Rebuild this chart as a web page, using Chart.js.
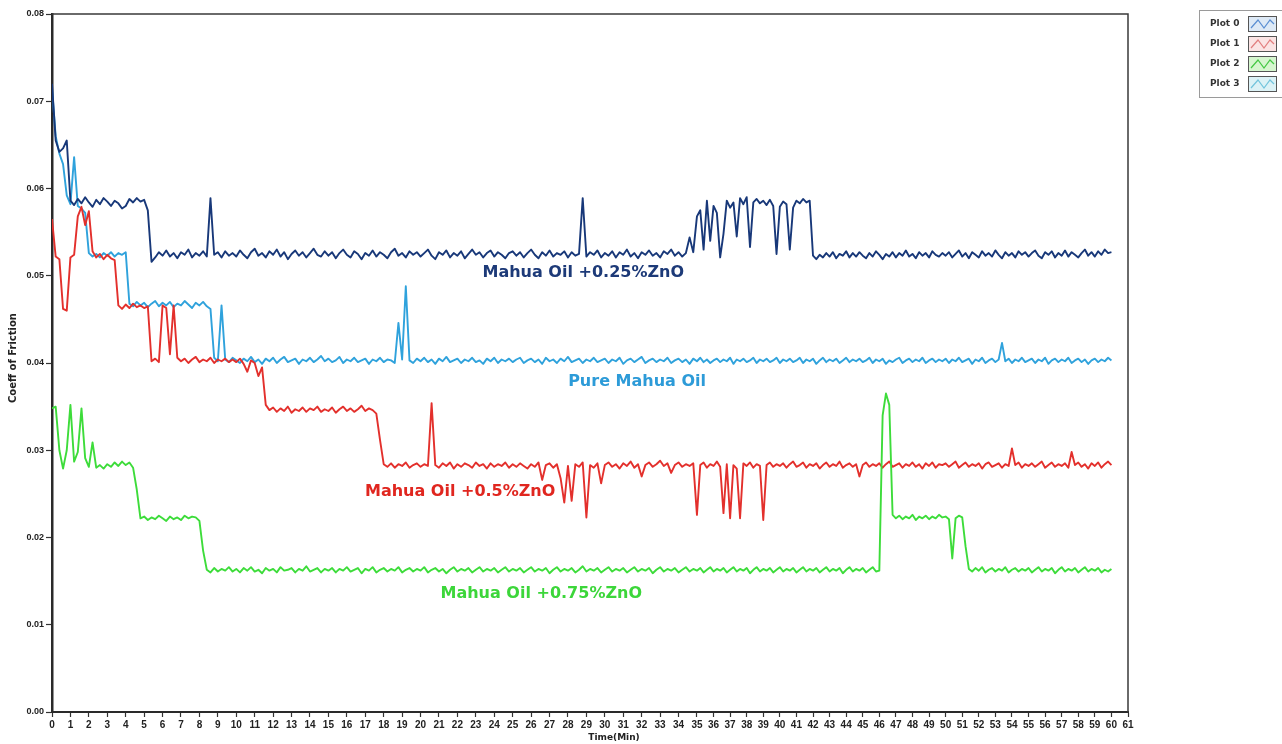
<!DOCTYPE html>
<html><head><meta charset="utf-8">
<script src="https://cdn.jsdelivr.net/npm/chart.js@4.4.1/dist/chart.umd.min.js"></script>
<style>html,body{margin:0;padding:0;background:#fff;overflow:hidden}#wrap{position:relative;width:1282px;height:744px}</style>
</head><body><div id="wrap"><canvas id="c" width="1282" height="744"></canvas></div>
<script>
// ---- data (time in minutes, sampled every 0.2 min; coefficient of friction) ----
const TIME_MIN = Array.from({length: 301}, (_, i) => Math.round(i * 2) / 10);

const MAHUA_025_ZNO = [
.0720,.0655,.0642,.0646,.0655,.0586,.0581,.0588,.0583,.0590,.0584,.0579,.0587,.0582,.0589,.0585,.0580,.0586,.0583,.0577,.0580,.0588,.0584,.0589,.0585,
.0587,.0575,.0516,.0521,.0527,.0523,.0529,.0522,.0526,.0520,.0527,.0524,.0530,.0521,.0526,.0523,.0528,.0522,.0589,.0524,.0527,.0521,.0528,.0523,.0526,
.0522,.0529,.0524,.0520,.0527,.0531,.0523,.0526,.0521,.0528,.0524,.0530,.0522,.0527,.0519,.0525,.0529,.0523,.0527,.0521,.0526,.0531,.0524,.0522,.0528,
.0523,.0527,.0520,.0526,.0530,.0524,.0521,.0528,.0525,.0519,.0526,.0523,.0529,.0522,.0527,.0524,.0520,.0527,.0531,.0523,.0526,.0521,.0528,.0524,.0527,
.0522,.0526,.0530,.0523,.0519,.0527,.0524,.0529,.0521,.0526,.0523,.0528,.0520,.0525,.0530,.0524,.0527,.0521,.0526,.0529,.0522,.0527,.0524,.0520,.0526,
.0528,.0523,.0527,.0521,.0526,.0530,.0524,.0520,.0527,.0523,.0529,.0522,.0526,.0524,.0528,.0521,.0527,.0523,.0525,.0589,.0522,.0527,.0524,.0529,.0521,
.0526,.0523,.0528,.0521,.0527,.0524,.0530,.0522,.0526,.0520,.0527,.0524,.0529,.0523,.0526,.0521,.0528,.0525,.0530,.0523,.0527,.0522,.0526,.0544,.0527,
.0568,.0575,.0530,.0586,.0540,.0580,.0572,.0521,.0548,.0586,.0578,.0584,.0545,.0589,.0582,.0590,.0533,.0584,.0588,.0583,.0586,.0581,.0587,.0580,.0525,
.0579,.0585,.0582,.0530,.0578,.0586,.0583,.0588,.0584,.0586,.0523,.0519,.0524,.0521,.0526,.0522,.0527,.0520,.0525,.0523,.0528,.0521,.0526,.0522,.0527,
.0523,.0520,.0526,.0522,.0528,.0524,.0519,.0525,.0522,.0527,.0521,.0526,.0523,.0529,.0522,.0525,.0520,.0527,.0523,.0526,.0521,.0528,.0524,.0522,.0526,
.0523,.0527,.0521,.0525,.0529,.0522,.0526,.0520,.0527,.0524,.0521,.0528,.0523,.0526,.0522,.0529,.0524,.0520,.0527,.0523,.0526,.0521,.0528,.0524,.0527,
.0522,.0526,.0529,.0523,.0520,.0527,.0524,.0528,.0521,.0526,.0523,.0529,.0522,.0527,.0524,.0521,.0526,.0530,.0523,.0527,.0522,.0528,.0524,.0530,.0526,
.0527];

const PURE_MAHUA = [
.0715,.0660,.0640,.0628,.0592,.0582,.0636,.0580,.0577,.0572,.0526,.0522,.0525,.0521,.0526,.0523,.0527,.0522,.0526,.0524,.0527,.0468,.0465,.0470,.0466,
.0469,.0464,.0468,.0471,.0465,.0469,.0466,.0470,.0464,.0468,.0466,.0471,.0467,.0463,.0469,.0466,.0470,.0465,.0462,.0406,.0402,.0466,.0404,.0401,.0406,
.0403,.0400,.0405,.0402,.0407,.0401,.0404,.0399,.0405,.0402,.0406,.0400,.0404,.0407,.0401,.0403,.0405,.0399,.0404,.0402,.0406,.0401,.0404,.0408,.0402,
.0405,.0401,.0403,.0407,.0400,.0404,.0402,.0406,.0401,.0403,.0405,.0399,.0404,.0402,.0406,.0401,.0404,.0403,.0400,.0446,.0404,.0488,.0403,.0400,.0405,
.0402,.0406,.0401,.0404,.0399,.0405,.0402,.0407,.0401,.0403,.0405,.0400,.0404,.0402,.0406,.0401,.0403,.0399,.0405,.0402,.0406,.0400,.0404,.0402,.0405,
.0401,.0404,.0406,.0400,.0403,.0405,.0401,.0404,.0399,.0406,.0402,.0404,.0400,.0405,.0402,.0407,.0401,.0403,.0405,.0400,.0404,.0402,.0406,.0401,.0403,
.0405,.0400,.0404,.0402,.0406,.0399,.0403,.0405,.0401,.0404,.0407,.0400,.0403,.0405,.0401,.0404,.0402,.0406,.0400,.0403,.0405,.0401,.0404,.0399,.0405,
.0402,.0406,.0401,.0404,.0400,.0403,.0405,.0401,.0404,.0402,.0406,.0399,.0404,.0402,.0405,.0401,.0403,.0406,.0400,.0404,.0402,.0405,.0401,.0403,.0406,
.0400,.0404,.0402,.0405,.0401,.0403,.0406,.0400,.0404,.0402,.0405,.0399,.0403,.0406,.0401,.0404,.0402,.0405,.0400,.0403,.0406,.0401,.0404,.0402,.0405,
.0401,.0403,.0406,.0400,.0404,.0402,.0405,.0399,.0403,.0401,.0404,.0406,.0400,.0403,.0405,.0401,.0404,.0402,.0406,.0400,.0403,.0405,.0401,.0404,.0402,
.0405,.0400,.0404,.0402,.0406,.0401,.0403,.0405,.0399,.0404,.0402,.0406,.0400,.0403,.0405,.0401,.0404,.0423,.0402,.0405,.0400,.0404,.0402,.0406,.0401,
.0403,.0405,.0400,.0404,.0402,.0406,.0399,.0403,.0405,.0401,.0404,.0402,.0406,.0400,.0403,.0405,.0401,.0404,.0399,.0403,.0405,.0401,.0404,.0402,.0406,
.0403];

const MAHUA_05_ZNO = [
.0565,.0522,.0519,.0462,.0460,.0521,.0524,.0568,.0579,.0558,.0574,.0528,.0521,.0525,.0519,.0524,.0520,.0518,.0466,.0462,.0467,.0463,.0468,.0464,.0466,
.0463,.0465,.0402,.0405,.0401,.0466,.0463,.0410,.0466,.0406,.0402,.0405,.0400,.0404,.0407,.0401,.0404,.0402,.0406,.0400,.0404,.0402,.0405,.0401,.0404,
.0401,.0405,.0399,.0390,.0403,.0400,.0385,.0395,.0352,.0346,.0349,.0344,.0348,.0345,.0350,.0343,.0347,.0345,.0349,.0344,.0348,.0346,.0350,.0344,.0347,
.0345,.0349,.0343,.0347,.0350,.0345,.0348,.0344,.0347,.0351,.0345,.0348,.0346,.0342,.0312,.0284,.0281,.0285,.0280,.0284,.0282,.0286,.0280,.0283,.0285,
.0281,.0284,.0282,.0354,.0283,.0280,.0285,.0282,.0286,.0279,.0284,.0281,.0285,.0283,.0280,.0286,.0282,.0284,.0279,.0285,.0281,.0284,.0282,.0286,.0280,
.0284,.0281,.0285,.0282,.0279,.0284,.0281,.0286,.0266,.0283,.0285,.0280,.0284,.0268,.0240,.0282,.0242,.0284,.0281,.0286,.0223,.0283,.0280,.0285,.0262,
.0283,.0286,.0281,.0284,.0279,.0285,.0282,.0287,.0280,.0284,.0270,.0283,.0286,.0281,.0284,.0288,.0282,.0285,.0274,.0283,.0286,.0281,.0284,.0282,.0285,
.0226,.0283,.0286,.0280,.0284,.0282,.0287,.0281,.0228,.0284,.0222,.0283,.0279,.0222,.0285,.0282,.0286,.0280,.0284,.0282,.0220,.0283,.0286,.0281,.0284,
.0282,.0285,.0280,.0284,.0287,.0281,.0283,.0286,.0280,.0284,.0282,.0285,.0279,.0283,.0286,.0281,.0284,.0282,.0287,.0280,.0283,.0285,.0281,.0284,.0270,
.0283,.0286,.0281,.0284,.0282,.0285,.0280,.0284,.0287,.0281,.0283,.0285,.0280,.0284,.0282,.0286,.0281,.0284,.0279,.0285,.0282,.0286,.0280,.0284,.0283,
.0285,.0281,.0284,.0287,.0280,.0283,.0286,.0281,.0284,.0282,.0285,.0279,.0284,.0286,.0281,.0283,.0285,.0280,.0284,.0282,.0302,.0283,.0286,.0280,.0284,
.0282,.0285,.0281,.0284,.0287,.0280,.0283,.0286,.0281,.0284,.0282,.0285,.0280,.0298,.0283,.0286,.0281,.0284,.0279,.0285,.0282,.0286,.0280,.0284,.0287,
.0283];

const MAHUA_075_ZNO = [
.0348,.0350,.0300,.0279,.0300,.0352,.0287,.0298,.0348,.0291,.0281,.0309,.0280,.0283,.0279,.0284,.0281,.0286,.0282,.0287,.0283,.0286,.0280,.0255,.0222,
.0224,.0220,.0223,.0221,.0225,.0222,.0219,.0224,.0221,.0223,.0220,.0225,.0222,.0224,.0223,.0219,.0185,.0163,.0160,.0165,.0161,.0164,.0162,.0166,.0161,
.0164,.0160,.0165,.0162,.0166,.0161,.0163,.0159,.0165,.0162,.0164,.0160,.0166,.0162,.0163,.0165,.0160,.0164,.0162,.0167,.0161,.0163,.0165,.0160,.0164,
.0162,.0165,.0160,.0164,.0162,.0166,.0161,.0163,.0165,.0159,.0164,.0162,.0166,.0160,.0163,.0165,.0161,.0164,.0162,.0166,.0160,.0163,.0165,.0161,.0164,
.0162,.0166,.0160,.0163,.0165,.0161,.0164,.0159,.0163,.0166,.0161,.0164,.0162,.0165,.0160,.0163,.0166,.0161,.0164,.0162,.0165,.0160,.0163,.0166,.0161,
.0164,.0162,.0165,.0160,.0163,.0166,.0161,.0164,.0162,.0165,.0159,.0163,.0166,.0161,.0164,.0162,.0165,.0160,.0163,.0167,.0161,.0164,.0162,.0165,.0160,
.0163,.0166,.0161,.0164,.0162,.0165,.0160,.0163,.0166,.0161,.0164,.0162,.0165,.0159,.0163,.0166,.0161,.0164,.0162,.0165,.0160,.0163,.0166,.0161,.0164,
.0162,.0165,.0160,.0163,.0166,.0161,.0164,.0162,.0165,.0160,.0163,.0166,.0161,.0164,.0162,.0165,.0159,.0163,.0166,.0161,.0164,.0162,.0165,.0160,.0163,
.0166,.0161,.0164,.0162,.0165,.0160,.0163,.0166,.0161,.0164,.0162,.0165,.0160,.0163,.0166,.0161,.0164,.0162,.0165,.0159,.0163,.0166,.0161,.0164,.0162,
.0165,.0160,.0163,.0166,.0161,.0162,.0340,.0365,.0352,.0226,.0222,.0225,.0221,.0224,.0222,.0226,.0220,.0224,.0222,.0225,.0221,.0224,.0222,.0226,.0223,
.0224,.0221,.0176,.0222,.0225,.0223,.0190,.0164,.0161,.0165,.0162,.0166,.0160,.0163,.0165,.0161,.0164,.0162,.0166,.0160,.0163,.0165,.0161,.0164,.0162,
.0165,.0160,.0163,.0166,.0161,.0164,.0162,.0165,.0159,.0163,.0166,.0161,.0164,.0162,.0165,.0160,.0163,.0166,.0161,.0164,.0162,.0165,.0160,.0163,.0161,
.0164];

const Y_TICK_LABELS = ['0.00','0.01','0.02','0.03','0.04','0.05','0.06','0.07','0.08'];
const LEGEND_NAMES = ['Plot 0','Plot 1','Plot 2','Plot 3'];
const SERIES_NAMES = ['Mahua Oil +0.25%ZnO','Mahua Oil +0.5%ZnO','Mahua Oil +0.75%ZnO','Pure Mahua Oil'];

// ---- styling / layout ----
const COL_NAVY = '#183879', COL_RED = '#e3302c', COL_GREEN = '#3ddc3a', COL_LIGHT = '#2fa2dc';
// label anchors in data units (minutes, CoF)
const LABEL_ANCHORS = [
  {name: SERIES_NAMES[0], t: 28.83, v: 0.0503, color: '#1d3a78'},
  {name: SERIES_NAMES[3], t: 31.75, v: 0.0378, color: '#2d9bd8'},
  {name: SERIES_NAMES[1], t: 22.15, v: 0.0252, color: '#e0261f'},
  {name: SERIES_NAMES[2], t: 26.55, v: 0.0135, color: '#3cd63a'}
];
// the time axis of the original picture is spaced more widely up to 35 min than after it
const AXIS_BREAK_T = 35, AXIS_BREAK_FRAC = 0.5994;

class BrokenTimeScale extends Chart.LinearScale {
  getPixelForValue(value) {
    if (value === null || value === undefined || isNaN(value)) return NaN;
    const mn = this.min, mx = this.max, b = AXIS_BREAK_T, f = AXIS_BREAK_FRAC;
    const d = value <= b ? (value - mn) / (b - mn) * f : f + (value - b) / (mx - b) * (1 - f);
    return this.getPixelForDecimal(d);
  }
  getValueForPixel(pixel) {
    const d = this.getDecimalForPixel(pixel);
    const mn = this.min, mx = this.max, b = AXIS_BREAK_T, f = AXIS_BREAK_FRAC;
    return d <= f ? mn + d / f * (b - mn) : b + (d - f) / (1 - f) * (mx - b);
  }
}
BrokenTimeScale.id = 'brokenTime';
BrokenTimeScale.defaults = Chart.LinearScale.defaults;
Chart.register(BrokenTimeScale);

const decor = {
  id: 'decor',
  afterDatasetsDraw(chart) {
    const {ctx, chartArea: a} = chart;
    ctx.save();
    ctx.strokeStyle = '#3a3a3a';
    ctx.lineWidth = 1.5;
    ctx.beginPath();
    ctx.moveTo(a.left, a.top); ctx.lineTo(a.right, a.top); ctx.lineTo(a.right, a.bottom);
    ctx.stroke();
    ctx.restore();
  },
  afterDraw(chart) {
    const {ctx, scales} = chart;
    ctx.save();
    // series labels
    ctx.font = "bold 16px 'DejaVu Sans'";
    ctx.textAlign = 'center'; ctx.textBaseline = 'middle';
    LABEL_ANCHORS.forEach(l => {
      ctx.fillStyle = l.color;
      ctx.fillText(l.name, scales.x.getPixelForValue(l.t), scales.y.getPixelForValue(l.v));
    });
    // axis titles
    ctx.fillStyle = '#222';
    ctx.font = "bold 9px 'DejaVu Sans'";
    ctx.fillText('Time(Min)', scales.x.getPixelForValue(30.5), 738);
    ctx.save();
    ctx.translate(13, 358);
    ctx.rotate(-Math.PI / 2);
    ctx.font = "bold 10px 'DejaVu Sans'";
    ctx.fillText('Coeff of Friction', 0, 0);
    ctx.restore();
    // legend box
    ctx.fillStyle = '#fff';
    ctx.fillRect(1199.5, 10.5, 90, 87);
    ctx.strokeStyle = '#9a9a9a'; ctx.lineWidth = 1;
    ctx.strokeRect(1199.5, 10.5, 90, 87);
    const fills = ['#dde9f6','#fbe4e4','#d6f6cf','#dcf2f6'];
    const waves = ['#5a8ed2','#e27f7f','#44c844','#72c4dc'];
    const ys = [24, 44, 64, 84];
    ctx.font = "bold 9px 'DejaVu Sans'";
    ctx.textAlign = 'left';
    LEGEND_NAMES.forEach((n, i) => {
      const y = ys[i];
      ctx.fillStyle = '#333';
      ctx.fillText(n, 1210, y);
      ctx.fillStyle = fills[i];
      ctx.fillRect(1248.5, y - 7.5, 28, 15);
      ctx.strokeStyle = '#555'; ctx.lineWidth = 1;
      ctx.strokeRect(1248.5, y - 7.5, 28, 15);
      ctx.strokeStyle = waves[i]; ctx.lineWidth = 1.2;
      ctx.beginPath();
      ctx.moveTo(1251, y + 4); ctx.lineTo(1258, y - 4); ctx.lineTo(1264, y + 4); ctx.lineTo(1270, y - 4); ctx.lineTo(1274, y);
      ctx.stroke();
    });
    ctx.restore();
  }
};

const line = (label, data, color) => ({
  label, data, borderColor: color, backgroundColor: color,
  borderWidth: 1.9, pointRadius: 0, tension: 0, fill: false, borderJoinStyle: 'round'
});

new Chart(document.getElementById('c'), {
  type: 'line',
  data: {
    labels: TIME_MIN,
    // first dataset is drawn on top
    datasets: [
      line(LEGEND_NAMES[2], MAHUA_075_ZNO, COL_GREEN),
      line(LEGEND_NAMES[1], MAHUA_05_ZNO, COL_RED),
      line(LEGEND_NAMES[0], MAHUA_025_ZNO, COL_NAVY),
      line(LEGEND_NAMES[3], PURE_MAHUA, COL_LIGHT)
    ]
  },
  plugins: [decor],
  options: {
    responsive: false, animation: false, events: [],
    layout: {padding: {left: 0, right: 154, top: 14, bottom: 0}},
    plugins: {legend: {display: false}, tooltip: {enabled: false}},
    scales: {
      x: {
        type: 'brokenTime', min: 0, max: 61,
        ticks: {stepSize: 1, autoSkip: false, maxRotation: 0, minRotation: 0, padding: 2,
                color: '#222', font: {family: 'Liberation Sans', size: 10, weight: 'bold'}},
        grid: {drawOnChartArea: false, drawTicks: true, tickLength: 5, color: '#333', tickWidth: 1.2},
        border: {display: true, color: '#2a2a2a', width: 2},
        afterFit: s => { s.height = 32; }
      },
      y: {
        min: 0, max: 0.08,
        ticks: {stepSize: 0.01, padding: 2, color: '#222',
                font: {family: 'Liberation Sans', size: 9, weight: 'bold'},
                callback: (v, i) => Y_TICK_LABELS[i]},
        grid: {drawOnChartArea: false, drawTicks: true, tickLength: 6, color: '#333', tickWidth: 1.2},
        border: {display: true, color: '#2a2a2a', width: 2.5},
        afterFit: s => { s.width = 52; }
      }
    }
  }
});
</script></body></html>
